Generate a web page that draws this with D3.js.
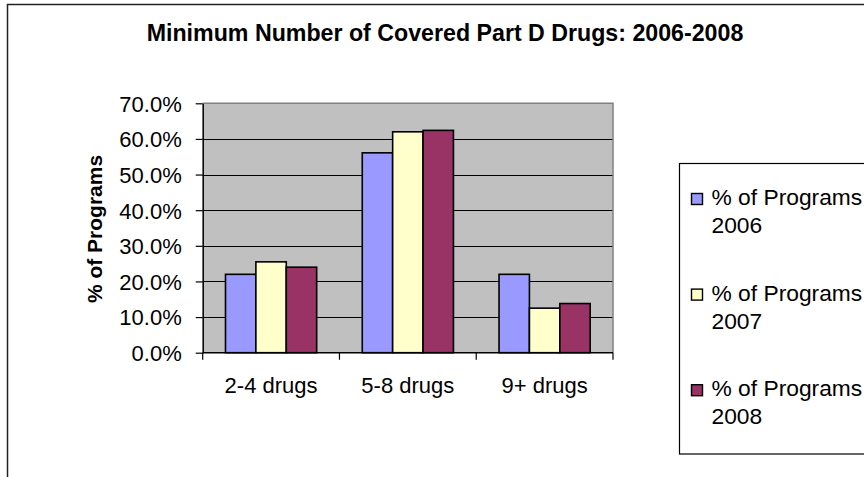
<!DOCTYPE html>
<html>
<head>
<meta charset="utf-8">
<script src="https://cdn.jsdelivr.net/npm/d3@7"></script>
<style>
  html, body { margin: 0; padding: 0; background: #fff; }
  svg { display: block; font-family: "Liberation Sans", Arial, sans-serif; }
</style>
</head>
<body>
<svg id="chart" width="864" height="477"></svg>
<script>
// Category labels and per-year shares of programs
const categories = ["2-4 drugs", "5-8 drugs", "9+ drugs"];
const seriesNames = ["% of Programs 2006", "% of Programs 2007", "% of Programs 2008"];
const values2006 = [0.220, 0.561, 0.220];
const values2007 = [0.255, 0.620, 0.125];
const values2008 = [0.240, 0.624, 0.138];
const yTicks = [0, 0.1, 0.2, 0.3, 0.4, 0.5, 0.6, 0.7];
const colors = ["#9999FF", "#FFFFCC", "#993366"];

const seriesValues = [values2006, values2007, values2008];
const rows = categories.map((c, i) => ({
  category: c,
  values: seriesNames.map((s, j) => ({ series: s, idx: j, value: seriesValues[j][i] }))
}));

const svg = d3.select("#chart");
svg.append("rect").attr("width", 864).attr("height", 477).attr("fill", "#fff");

// Outer chart frame (extends past the right and bottom edges)
svg.append("path")
  .attr("d", "M7.5,480 L7.5,4.5 L870,4.5")
  .attr("fill", "none").attr("stroke", "#222").attr("stroke-width", 1.5);

// Title
svg.append("text")
  .attr("x", 445).attr("y", 41)
  .attr("text-anchor", "middle")
  .attr("font-weight", "bold").attr("font-size", 23.2)
  .text("Minimum Number of Covered Part D Drugs: 2006-2008");

const plot = { left: 202.7, right: 613, top: 103.3, bottom: 352.7 };

const x0 = d3.scaleBand().domain(categories).range([plot.left, plot.right]).padding(0);
const x1 = d3.scaleBand().domain(seriesNames).range([0, x0.bandwidth()])
  .paddingInner(0).paddingOuter(0.75);
const y = d3.scaleLinear().domain([0, 0.7]).range([plot.bottom, plot.top]);

// Plot area background
svg.append("rect")
  .attr("x", plot.left).attr("y", plot.top)
  .attr("width", plot.right - plot.left).attr("height", plot.bottom - plot.top)
  .attr("fill", "#C0C0C0");

// Horizontal gridlines
svg.append("g").selectAll("line")
  .data(yTicks.filter(t => t > 0 && t < 0.7))
  .join("line")
  .attr("x1", plot.left).attr("x2", plot.right)
  .attr("y1", d => Math.round(y(d)) + 0.5).attr("y2", d => Math.round(y(d)) + 0.5)
  .attr("stroke", "#000").attr("stroke-width", 1);

// Plot border on top and right
svg.append("path")
  .attr("d", `M${plot.left},${plot.top} L${plot.right},${plot.top} L${plot.right},${plot.bottom}`)
  .attr("fill", "none").attr("stroke", "#808080").attr("stroke-width", 1.5);

// Bars
const groups = svg.append("g").selectAll("g")
  .data(rows).join("g")
  .attr("transform", d => `translate(${x0(d.category)},0)`);

groups.selectAll("rect")
  .data(d => d.values).join("rect")
  .attr("x", d => x1(d.series))
  .attr("y", d => y(d.value))
  .attr("width", x1.bandwidth())
  .attr("height", d => y(0) - y(d.value))
  .attr("fill", d => colors[d.idx])
  .attr("stroke", "#000").attr("stroke-width", 1.6);

// Y axis
const yAxis = svg.append("g")
  .attr("transform", `translate(${plot.left},0)`)
  .call(d3.axisLeft(y).tickValues(yTicks).tickFormat(d3.format(".1%"))
    .tickSize(7).tickPadding(14).tickSizeOuter(0));
yAxis.select(".domain").attr("stroke", "#000").attr("stroke-width", 1.5);
yAxis.selectAll(".tick line").attr("stroke", "#000").attr("stroke-width", 1.2);
yAxis.selectAll(".tick text")
  .attr("font-size", 22).attr("font-family", "Liberation Sans, Arial, sans-serif")
  .attr("fill", "#000").attr("dy", "0.36em");

// X axis: line, boundary ticks, centered labels
const xAxis = svg.append("g");
xAxis.append("line")
  .attr("x1", plot.left).attr("x2", plot.right)
  .attr("y1", plot.bottom).attr("y2", plot.bottom)
  .attr("stroke", "#000").attr("stroke-width", 1.5);
const boundaries = categories.map(c => x0(c)).concat([x0(categories[categories.length - 1]) + x0.bandwidth()]);
xAxis.selectAll("line.tick")
  .data(boundaries).join("line").attr("class", "tick")
  .attr("x1", d => d).attr("x2", d => d)
  .attr("y1", plot.bottom).attr("y2", plot.bottom + 7)
  .attr("stroke", "#000").attr("stroke-width", 1.2);
xAxis.selectAll("text")
  .data(categories).join("text")
  .attr("x", d => x0(d) + x0.bandwidth() / 2)
  .attr("y", 393.3)
  .attr("text-anchor", "middle")
  .attr("font-size", 22)
  .text(d => d);

// Y axis title
svg.append("text")
  .attr("transform", "translate(102,229) rotate(-90)")
  .attr("text-anchor", "middle")
  .attr("font-weight", "bold").attr("font-size", 21)
  .text("% of Programs");

// Legend
const legend = svg.append("g");
legend.append("rect")
  .attr("x", 679.5).attr("y", 163.5)
  .attr("width", 200).attr("height", 290.5)
  .attr("fill", "#fff").attr("stroke", "#000").attr("stroke-width", 1.2);

const items = legend.selectAll("g.item")
  .data(seriesNames).join("g").attr("class", "item")
  .attr("transform", (d, i) => `translate(0,${205 + i * 95.6})`);
items.append("rect")
  .attr("x", 691.5).attr("y", -11.5)
  .attr("width", 11).attr("height", 11)
  .attr("fill", (d, i) => colors[i])
  .attr("stroke", "#000").attr("stroke-width", 1.4);
const labels = items.append("text")
  .attr("x", 711.5).attr("y", 0)
  .attr("font-size", 22.8);
labels.append("tspan").text(d => d.replace(/ \d{4}$/, ""));
labels.append("tspan").attr("x", 711.5).attr("dy", 28.3).text(d => d.match(/\d{4}$/)[0]);
</script>
</body>
</html>
